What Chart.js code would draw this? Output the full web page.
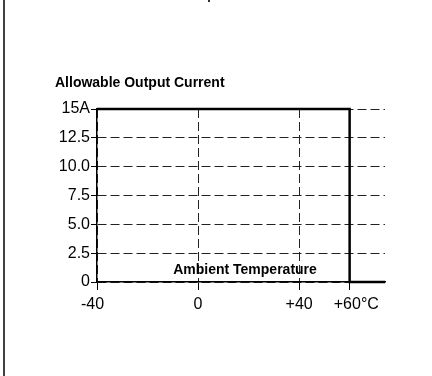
<!DOCTYPE html>
<html>
<head>
<meta charset="utf-8">
<script src="https://cdn.jsdelivr.net/npm/chart.js@4.4.1/dist/chart.umd.min.js"></script>
<style>
    html, body { margin: 0; padding: 0; background: #fff; }
    canvas { display: block; }
</style>
</head>
<body>
<canvas id="derating" width="432" height="376"></canvas>
<script>
"use strict";
// derating curve: ambient temperature (°C) vs allowable output current (A)
const temps = [-40, 60, 60, 74];
const currents = [15, 15, 0, 0];
const xTicks = [-40, 0, 40, 60];
const xTickLabels = ['-40  ', '0', '+40', '   +60°C'];
const yTicks = [0, 2.5, 5, 7.5, 10, 12.5, 15];
const yTickLabels = ['0', '2.5', '5.0', '7.5', '10.0', '12.5', '15A'];
const chartTitle = 'Allowable Output Current';
const xTitle = 'Ambient Temperature';

const FONT = 'Arial, "Liberation Sans", Helvetica, sans-serif';

// titles and the page frame line
const extraText = {
    id: 'extraText',
    afterDraw(chart) {
        const ctx = chart.ctx;
        const area = chart.chartArea;
        ctx.save();
        ctx.fillStyle = '#000';
        ctx.font = 'bold 14px ' + FONT;
        ctx.textAlign = 'left';
        ctx.textBaseline = 'alphabetic';
        ctx.fillText(chartTitle, 55, 87);
        ctx.textAlign = 'center';
        ctx.fillText(xTitle, 245, area.bottom - 8);
        ctx.strokeStyle = '#000';
        ctx.lineWidth = 1.5;
        ctx.beginPath();
        ctx.moveTo(4, 0);
        ctx.lineTo(4, chart.height);
        ctx.stroke();
        ctx.fillStyle = '#333';
        ctx.fillRect(208, 0, 2, 2);
        ctx.restore();
    }
};

const points = temps.map((t, i) => ({ x: t, y: currents[i] }));

const config = {
    type: 'line',
    data: {
        datasets: [{
            data: points,
            borderColor: '#000',
            borderWidth: 2.5,
            pointRadius: 0,
            tension: 0,
            fill: false,
            clip: false
        }]
    },
    options: {
        responsive: false,
        animation: false,
        layout: { padding: { top: 109, right: 47, bottom: 60, left: 0 } },
        plugins: {
            legend: { display: false },
            tooltip: { enabled: false }
        },
        scales: {
            x: {
                type: 'linear',
                min: -40,
                max: 74,
                afterBuildTicks: (scale) => {
                    scale.ticks = xTicks.map(v => ({ value: v }));
                },
                afterFit: (scale) => { scale.height = 34; },
                ticks: {
                    color: '#000',
                    font: { family: FONT, size: 16 },
                    padding: 5,
                    maxRotation: 0,
                    autoSkip: false,
                    callback: (value) => xTickLabels[xTicks.indexOf(value)]
                },
                grid: {
                    color: '#222',
                    lineWidth: 1,
                    tickColor: '#000',
                    tickLength: 8,
                    tickBorderDash: []
                },
                border: { color: '#000', width: 1.5, dash: [9, 4] }
            },
            y: {
                min: 0,
                max: 15,
                afterBuildTicks: (scale) => {
                    scale.ticks = yTicks.map(v => ({ value: v }));
                },
                afterFit: (scale) => { scale.width = 97; },
                ticks: {
                    color: '#000',
                    font: { family: FONT, size: 16 },
                    padding: 1,
                    callback: (value) => yTickLabels[yTicks.indexOf(value)]
                },
                grid: {
                    color: '#222',
                    lineWidth: 1,
                    tickColor: '#000',
                    tickLength: 6,
                    tickBorderDash: []
                },
                border: { color: '#000', width: 1.5, dash: [9, 4] }
            }
        }
    },
    plugins: [extraText]
};

const ctx = document.getElementById('derating').getContext('2d');
new Chart(ctx, config);
</script>
</body>
</html>
